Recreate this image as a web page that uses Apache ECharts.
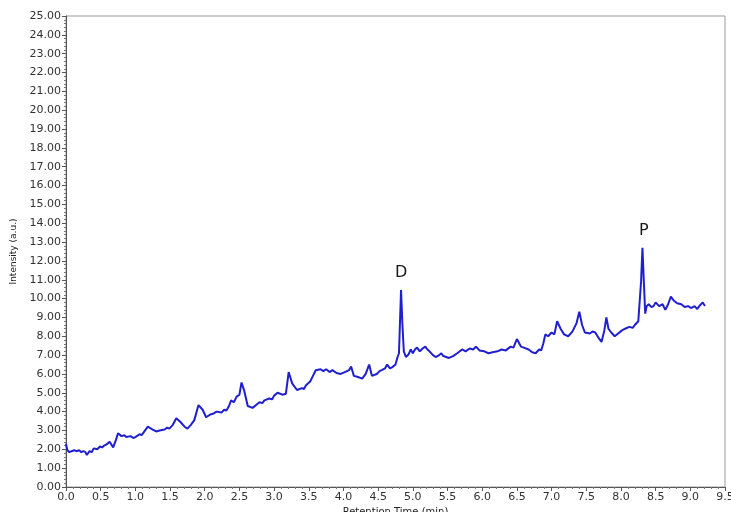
<!DOCTYPE html>
<html>
<head>
<meta charset="utf-8">
<script src="https://cdn.jsdelivr.net/npm/echarts@6/dist/echarts.min.js"></script>
<style>html,body{margin:0;padding:0;background:#fff}#c{width:731px;height:512px}</style>
</head>
<body>
<div id="c"></div>
<script>
var retentionTime = [0.00,0.02,0.05,0.08,0.12,0.15,0.19,0.22,0.25,0.28,0.30,0.34,0.37,0.40,0.45,0.49,0.52,0.55,0.58,0.63,0.68,0.72,0.75,0.80,0.84,0.87,0.93,0.97,1.00,1.06,1.09,1.12,1.18,1.25,1.30,1.35,1.42,1.46,1.49,1.54,1.59,1.65,1.71,1.75,1.80,1.85,1.91,1.97,2.02,2.08,2.13,2.17,2.24,2.28,2.31,2.35,2.38,2.42,2.46,2.50,2.53,2.57,2.62,2.69,2.74,2.79,2.83,2.86,2.93,2.97,3.00,3.05,3.12,3.17,3.21,3.26,3.33,3.40,3.43,3.46,3.52,3.56,3.60,3.67,3.71,3.75,3.80,3.84,3.90,3.96,4.02,4.08,4.11,4.15,4.20,4.27,4.32,4.37,4.41,4.48,4.52,4.55,4.60,4.63,4.67,4.70,4.75,4.78,4.80,4.83,4.85,4.87,4.90,4.94,4.97,5.00,5.03,5.06,5.10,5.14,5.18,5.21,5.24,5.29,5.33,5.38,5.41,5.44,5.48,5.52,5.58,5.64,5.71,5.76,5.82,5.87,5.91,5.96,6.03,6.09,6.15,6.22,6.28,6.34,6.41,6.45,6.50,6.56,6.60,6.67,6.72,6.77,6.82,6.85,6.88,6.91,6.95,7.00,7.04,7.08,7.13,7.18,7.24,7.30,7.36,7.40,7.44,7.48,7.55,7.59,7.63,7.68,7.72,7.76,7.79,7.82,7.86,7.91,7.96,8.01,8.06,8.12,8.17,8.20,8.25,8.29,8.31,8.33,8.35,8.37,8.40,8.44,8.47,8.50,8.55,8.60,8.64,8.68,8.72,8.76,8.81,8.87,8.92,8.97,9.01,9.06,9.10,9.14,9.18,9.21,9.25];
var intensity = [2.3,1.95,1.85,1.9,1.95,1.9,1.95,1.85,1.9,1.85,1.7,1.9,1.85,2.05,2.0,2.15,2.1,2.2,2.25,2.4,2.1,2.5,2.85,2.7,2.75,2.65,2.7,2.6,2.65,2.8,2.75,2.9,3.2,3.05,2.95,3.0,3.05,3.15,3.1,3.3,3.65,3.45,3.2,3.1,3.3,3.55,4.35,4.1,3.7,3.85,3.9,4.0,3.95,4.1,4.05,4.3,4.6,4.5,4.8,4.9,5.55,5.1,4.3,4.2,4.35,4.5,4.45,4.6,4.7,4.65,4.85,5.0,4.9,4.95,6.1,5.5,5.15,5.25,5.2,5.4,5.6,5.9,6.2,6.25,6.15,6.25,6.1,6.2,6.05,6.0,6.1,6.2,6.4,5.9,5.85,5.75,6.0,6.5,5.9,6.0,6.15,6.2,6.3,6.5,6.3,6.35,6.5,6.9,7.1,10.45,8.6,7.2,6.9,7.05,7.3,7.1,7.3,7.4,7.2,7.35,7.45,7.3,7.2,7.0,6.9,7.0,7.1,6.95,6.9,6.85,6.95,7.1,7.3,7.2,7.35,7.3,7.45,7.25,7.2,7.1,7.15,7.2,7.3,7.25,7.45,7.4,7.85,7.45,7.4,7.3,7.15,7.1,7.3,7.25,7.6,8.1,8.0,8.2,8.1,8.8,8.4,8.1,8.0,8.25,8.7,9.3,8.6,8.2,8.15,8.25,8.2,7.9,7.7,8.3,9.0,8.4,8.2,8.0,8.15,8.3,8.4,8.5,8.45,8.6,8.8,10.9,12.7,10.9,9.2,9.6,9.7,9.55,9.6,9.8,9.6,9.7,9.4,9.7,10.1,9.9,9.75,9.7,9.55,9.6,9.5,9.6,9.45,9.65,9.8,9.6];
var yTicks = {min: 0, max: 25, step: 1};
var xTicks = {min: 0, max: 9.5, step: 0.5};
var peakLabels = [{name: 'D', x: 4.83, y: 10.45}, {name: 'P', x: 8.33, y: 12.7}];

var chart = echarts.init(document.getElementById('c'), null, {renderer: 'canvas'});
var pts = retentionTime.map(function (t, i) { return [t, intensity[i]]; });
var font = 'DejaVu Sans, Verdana, sans-serif';
chart.setOption({
  animation: false,
  backgroundColor: '#ffffff',
  grid: {left: 66, right: 6, top: 16, bottom: 25, show: true, borderColor: '#9a9a9a', borderWidth: 1,
    containLabel: false, outerBoundsMode: 'none'},
  xAxis: {
    type: 'value', min: xTicks.min, max: xTicks.max, interval: xTicks.step,
    name: 'Retention Time (min)', nameLocation: 'middle', nameGap: 19,
    nameTextStyle: {fontFamily: font, fontSize: 10, color: '#222'},
    axisLine: {show: true, onZero: false, lineStyle: {color: '#555', width: 1}},
    axisTick: {show: true, length: 4, lineStyle: {color: '#555'}},
    minorTick: {show: true, splitNumber: 5, length: 2, lineStyle: {color: '#777'}},
    splitLine: {show: false},
    axisLabel: {fontFamily: font, fontSize: 11, color: '#333', margin: 5,
      formatter: function (v) { return v.toFixed(1); }}
  },
  yAxis: {
    type: 'value', min: yTicks.min, max: yTicks.max, interval: yTicks.step,
    name: 'Intensity (a.u.)', nameLocation: 'middle', nameGap: 43,
    nameTextStyle: {fontFamily: font, fontSize: 9, color: '#222'},
    axisLine: {show: true, onZero: false, lineStyle: {color: '#555', width: 1}},
    axisTick: {show: true, length: 4, lineStyle: {color: '#555'}},
    minorTick: {show: true, splitNumber: 5, length: 2, lineStyle: {color: '#777'}},
    splitLine: {show: false},
    axisLabel: {fontFamily: font, fontSize: 11, color: '#333', margin: 5,
      formatter: function (v) { return v.toFixed(2); }}
  },
  series: [{
    type: 'line', data: pts, showSymbol: false, symbol: 'none',
    lineStyle: {color: '#1f1fd0', width: 2},
    markPoint: {
      symbol: 'circle', symbolSize: 0,
      label: {show: true, position: 'top', distance: 9, fontFamily: font, fontSize: 16, color: '#1a1a1a',
        formatter: function (p) { return p.name; }},
      data: peakLabels.map(function (p) { return {name: p.name, coord: [p.x, p.y]}; })
    }
  }]
});
</script>
</body>
</html>
